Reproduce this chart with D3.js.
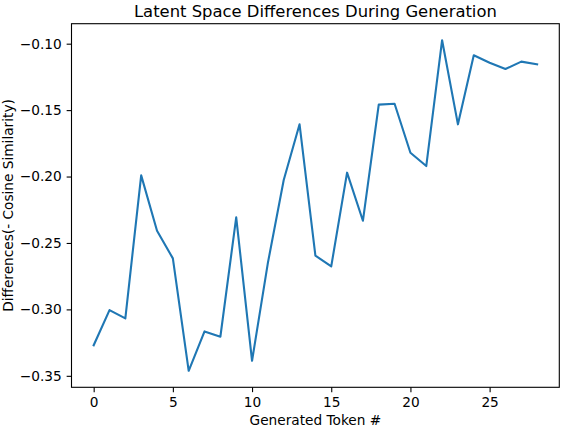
<!DOCTYPE html>
<html>
<head>
<meta charset="utf-8">
<script src="https://cdn.jsdelivr.net/npm/d3@7"></script>
<style>
  body { margin: 0; background: #fff; }
  svg { display: block; font-family: "DejaVu Sans", sans-serif; }
</style>
</head>
<body>
<div id="chart"></div>
<script>
// token index and difference values
var tokens = d3.range(0, 29);
var diffs = [-0.327, -0.3005, -0.3068, -0.1991, -0.2408, -0.2616, -0.3462, -0.3166,
  -0.3206, -0.2307, -0.3387, -0.265, -0.2026, -0.1607, -0.2596, -0.2676, -0.1971,
  -0.2333, -0.1459, -0.1452, -0.1821, -0.1921, -0.0974, -0.1607, -0.1087, -0.1143,
  -0.1191, -0.1135, -0.1155];
var xTicks = [0, 5, 10, 15, 20, 25];
var yTicks = [-0.35, -0.30, -0.25, -0.20, -0.15, -0.10];

var W = 562, H = 428;
var margin = {top: 23.7, right: 2.7, bottom: 40.7, left: 71.5},
    width = W - margin.left - margin.right,
    height = H - margin.top - margin.bottom;
var font_size = 13.7;
var tick_len = 4.86;

var data = tokens.map(function(t, i) { return {t: t, v: diffs[i]}; });

var svg = d3.select("#chart")
  .append("svg")
    .attr("width", W)
    .attr("height", H);
var g = svg.append("g")
    .attr("transform", "translate(" + margin.left + "," + margin.top + ")");

// matplotlib-style 5% margins
var xe = d3.extent(tokens), xp = (xe[1] - xe[0]) * 0.05;
var ye = d3.extent(diffs), yp = (ye[1] - ye[0]) * 0.05;

var x = d3.scaleLinear()
  .domain([xe[0] - xp, xe[1] + xp])
  .range([0, width]);
var y = d3.scaleLinear()
  .domain([ye[0] - yp, ye[1] + yp])
  .range([height, 0]);

var xAxis = g.append("g")
  .attr("transform", "translate(0," + height + ")")
  .call(d3.axisBottom(x).tickValues(xTicks).tickFormat(d3.format("d")).tickSize(tick_len).tickPadding(tick_len));
var yAxis = g.append("g")
  .call(d3.axisLeft(y).tickValues(yTicks).tickFormat(d3.format(".2f")).tickSize(tick_len).tickPadding(tick_len));

[xAxis, yAxis].forEach(function(a) {
  a.select(".domain").remove();
  a.selectAll("line").attr("stroke", "#000").attr("stroke-width", 1.1);
  a.selectAll("text")
    .attr("font-family", "DejaVu Sans, sans-serif")
    .attr("font-size", font_size)
    .attr("fill", "#000");
});

// line
g.append("path")
  .datum(data)
  .attr("fill", "none")
  .attr("stroke", "#1f77b4")
  .attr("stroke-width", 2.1)
  .attr("stroke-linejoin", "round")
  .attr("stroke-linecap", "square")
  .attr("d", d3.line().x(function(d) { return x(d.t); }).y(function(d) { return y(d.v); }));

// frame
g.append("rect")
  .attr("width", width)
  .attr("height", height)
  .attr("fill", "none")
  .attr("stroke", "#000")
  .attr("stroke-width", 1.1);

// title and labels
svg.append("text")
  .attr("x", margin.left + width / 2)
  .attr("y", 16.5)
  .attr("text-anchor", "middle")
  .attr("font-size", 16.4)
  .text("Latent Space Differences During Generation");

svg.append("text")
  .attr("x", margin.left + width / 2)
  .attr("y", 424.5)
  .attr("text-anchor", "middle")
  .attr("font-size", font_size)
  .text("Generated Token #");

svg.append("text")
  .attr("transform", "translate(13," + (margin.top + height / 2) + ") rotate(-90)")
  .attr("text-anchor", "middle")
  .attr("font-size", font_size)
  .text("Differences(- Cosine Similarity)");
</script>
</body>
</html>
